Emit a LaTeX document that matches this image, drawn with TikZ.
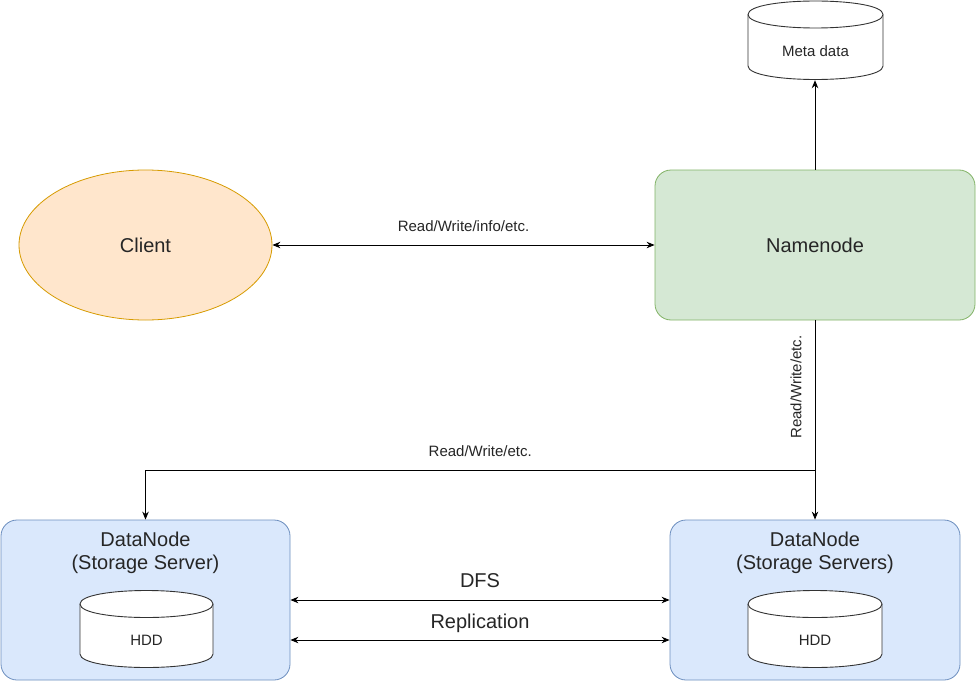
\documentclass[tikz,border=0pt]{standalone}
\usepackage{fontspec}
\setmainfont{Liberation Sans}
\usetikzlibrary{arrows.meta,shapes.geometric}
\definecolor{nnfill}{HTML}{D5E8D4}
\definecolor{nnline}{HTML}{82B366}
\definecolor{clfill}{HTML}{FFE6CC}
\definecolor{clline}{HTML}{D79B00}
\definecolor{dnfill}{HTML}{DAE8FC}
\definecolor{dnline}{HTML}{6C8EBF}
\begin{document}
\begin{tikzpicture}[x=1pt,y=-1pt,
  big/.style={font=\fontsize{20}{23}\selectfont, text=black!85},
  small/.style={font=\fontsize{15}{17}\selectfont, text=black!85},
  arr/.style={-{Stealth[length=8pt,width=6.5pt]}, line width=1pt},
  darr/.style={{Stealth[length=8pt,width=6.5pt]}-{Stealth[length=8pt,width=6.5pt]}, line width=1pt},
  cylline/.style={draw=black!80, line width=0.9pt, fill=white},
  box/.style={draw, rounded corners=16pt, line width=0.8pt, inner sep=0pt}
]
\useasboundingbox (0,0) rectangle (976,682);
\fill[white] (0,0) rectangle (976,682);

% Meta data cylinder
\path[cylline] (748,14.5) -- (748,66) .. controls (748,84) and (883,84) .. (883,66) -- (883,14.5) .. controls (883,-3.5) and (748,-3.5) .. (748,14.5) -- cycle;
\draw[cylline, fill=none] (748,14.5) .. controls (748,32.5) and (883,32.5) .. (883,14.5);
\node[minimum width=135pt, minimum height=79pt, inner sep=0pt] (meta) at (815,40.5) {};
\node[small] (metat) at (815.5,51) {Meta data};

% Namenode
\node[box, draw=nnline, fill=nnfill, minimum width=320pt, minimum height=150pt] (nn) at (815,245) {};
\node[big] (nnt) at (815,245) {Namenode};

% Client
\node[ellipse, draw=clline, fill=clfill, line width=0.8pt, minimum width=253pt, minimum height=150pt, inner sep=0pt] (client) at (145.5,245) {};
\node[big] (clt) at (145.5,245) {Client};

% DataNodes
\node[box, draw=dnline, fill=dnfill, minimum width=289pt, minimum height=160pt] (dn1) at (145.5,600) {};
\node[box, draw=dnline, fill=dnfill, minimum width=290pt, minimum height=160pt] (dn2) at (815,600) {};
\node[big, align=center] (dn1t) at (145.5,553) {DataNode\\(Storage Server)};
\node[big, align=center] (dn2t) at (815,553) {DataNode\\(Storage Servers)};

% HDD cylinders
\path[cylline] (80,604) -- (80,654) .. controls (80,672) and (213,672) .. (213,654) -- (213,604) .. controls (213,586) and (80,586) .. (80,604) -- cycle;
\draw[cylline, fill=none] (80,604) .. controls (80,622) and (213,622) .. (213,604);
\node[small] (hdd1) at (146.5,640) {HDD};
\path[cylline] (748,604) -- (748,654) .. controls (748,672) and (882,672) .. (882,654) -- (882,604) .. controls (882,586) and (748,586) .. (748,604) -- cycle;
\draw[cylline, fill=none] (748,604) .. controls (748,622) and (882,622) .. (882,604);
\node[small] (hdd2) at (815,640) {HDD};

% Connectors
\draw[arr] (nn.north) -- (meta.south);
\draw[darr] (client.east) -- node[small, above=10pt] {Read/Write/info/etc.} (nn.west);
\coordinate (split) at (815,470);
\coordinate (lcorner) at (dn1.north |- split);
\draw[arr] (nn.south) -- (split) -- (dn2.north);
\node[small, rotate=90] (vlabel) at (796,387) {Read/Write/etc.};
\draw[arr] (split) -- node[small, above=10pt, pos=0.5] {Read/Write/etc.} (lcorner) -- (dn1.north);

\coordinate (dfsl) at (dn1.east |- 0,600);
\coordinate (dfsr) at (dn2.west |- 0,600);
\draw[darr] (dfsl) -- node[big, above=8pt] {DFS} (dfsr);
\coordinate (repl) at (dn1.east |- 0,640);
\coordinate (repr) at (dn2.west |- 0,640);
\draw[darr] (repl) -- node[big, above=4pt] {Replication} (repr);
\end{tikzpicture}
\end{document}
